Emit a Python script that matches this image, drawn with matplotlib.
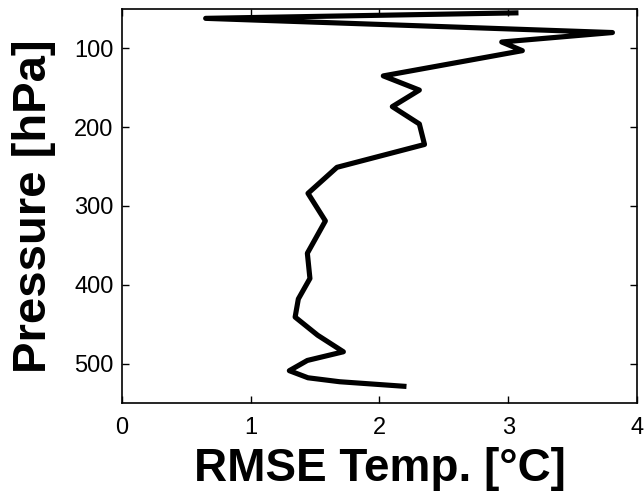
import matplotlib
matplotlib.use("Agg")
import matplotlib.pyplot as plt

rmse = [3.08, 0.65, 3.81, 2.95, 3.11, 2.03, 2.31, 2.10, 2.31, 2.35, 1.67, 1.445,
        1.58, 1.44, 1.46, 1.37, 1.345, 1.52, 1.72, 1.44, 1.30, 1.445, 1.69, 2.21]
pressure = [55, 62, 80, 92, 103, 135, 153, 174, 196, 222, 251, 284,
            319, 360, 392, 418, 441, 464, 485, 496, 509, 518, 523, 529]
xticks = [0, 1, 2, 3, 4]
yticks = [100, 200, 300, 400, 500]

fam = ["Liberation Sans", "DejaVu Sans"]

fig = plt.figure(figsize=(6.44, 4.94), dpi=100)
ax = fig.add_axes([0.1894, 0.1842, 0.7996, 0.7978])
ax.plot(rmse, pressure, color="black", lw=3.7, solid_joinstyle="round",
        solid_capstyle="butt")
ax.set_xlim(0, 4)
ax.set_ylim(550, 50)
ax.set_xticks(xticks)
ax.set_yticks(yticks)
ax.tick_params(direction="in", length=5, width=1, top=True, right=True,
               labelsize=17, pad=6)
ax.tick_params(axis="x", pad=10)
for lab in ax.get_xticklabels() + ax.get_yticklabels():
    lab.set_family(fam)
for s in ax.spines.values():
    s.set_linewidth(1.2)
ax.set_xlabel("RMSE Temp. [°C]", family=fam, fontsize=33, fontweight="bold", labelpad=6)
ax.set_ylabel("Pressure [hPa]", family=fam, fontsize=34, fontweight="bold", labelpad=13)
fig.savefig("out.png", dpi=100)
